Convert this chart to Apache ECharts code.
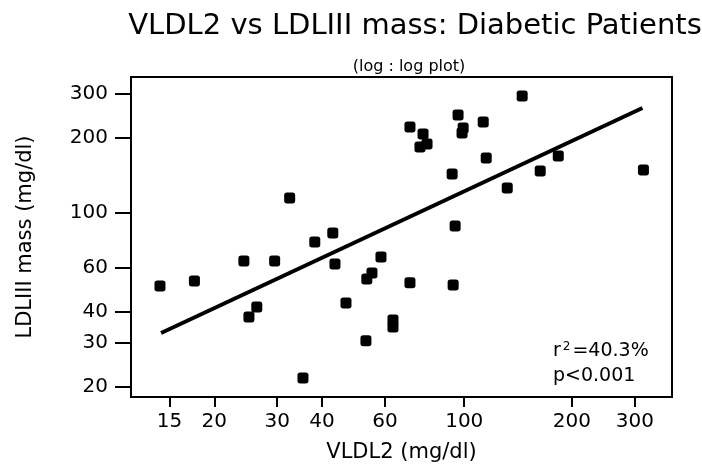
<!DOCTYPE html>
<html>
<head>
<meta charset="utf-8">
<script src="https://cdn.jsdelivr.net/npm/echarts@6/dist/echarts.min.js"></script>
<style>
  html, body { margin: 0; padding: 0; background: #fff; }
  #main { width: 702px; height: 472px; }
</style>
</head>
<body>
<div id="main"></div>
<script>
// VLDL2 (x) and LDLIII mass (y)
var vldl2 = [14.1, 17.6, 24.2, 25.0, 26.3, 29.5, 32.5, 35.4, 38.2, 42.9, 43.5, 46.7,
             53.1, 53.4, 55.2, 58.5, 63.2, 63.2, 70.5, 76.7, 75.2, 78.7, 70.5, 92.5,
             94.3, 93.1, 96.1, 99.3, 98.6, 113, 115.2, 131.9, 145.2, 163.1, 183.2, 317];
var ldl3 = [50.8, 53.2, 64.0, 38.1, 41.8, 64.0, 114.7, 21.7, 76.3, 83.0, 62.3, 43.4,
            30.6, 54.2, 57.3, 66.4, 37.1, 34.8, 221, 207, 183.8, 189, 52.3, 143,
            88.5, 51.3, 247, 219, 209, 231.6, 166, 125.8, 294.5, 147.2, 169.1, 148.6];

// fitted line end points
var fitX = [14.2, 315];
var fitY = [32.9, 263.6];

var xTicks = [15, 20, 30, 40, 60, 100, 200, 300];
var yTicks = [20, 30, 40, 60, 100, 200, 300];

var points = [];
for (var i = 0; i < vldl2.length; i++) {
  points.push([vldl2[i], ldl3[i]]);
}
var fit = [];
for (var j = 0; j < fitX.length; j++) {
  fit.push([fitX[j], fitY[j]]);
}

var font = 'DejaVu Sans, sans-serif';

var myChart = echarts.init(document.getElementById('main'));
myChart.setOption({
  animation: false,
  backgroundColor: '#fff',
  title: [
    {
      text: 'VLDL2 vs LDLIII mass: Diabetic Patients',
      left: 410, top: 7, textAlign: 'center',
      textStyle: { fontFamily: font, fontSize: 29, fontWeight: 'normal', color: '#000' }
    },
    {
      text: '(log : log plot)',
      left: 404, top: 54, textAlign: 'center',
      textStyle: { fontFamily: font, fontSize: 16, fontWeight: 'normal', color: '#000' }
    }
  ],
  grid: {
    left: 131, right: 30, top: 77, bottom: 75,
    show: true, borderColor: '#000', borderWidth: 2
  },
  xAxis: {
    type: 'log',
    min: 11.7, max: 381,
    name: 'VLDL2 (mg/dl)',
    nameLocation: 'middle',
    nameGap: 45,
    nameTextStyle: { fontFamily: font, fontSize: 21, color: '#000' },
    axisLine: { lineStyle: { color: '#000', width: 2 } },
    axisTick: { length: 10, lineStyle: { color: '#000', width: 2 }, customValues: xTicks },
    axisLabel: { margin: 15, fontFamily: font, fontSize: 20, color: '#000', customValues: xTicks },
    splitLine: { show: false }
  },
  yAxis: {
    type: 'log',
    min: 18.2, max: 351,
    name: 'LDLIII mass (mg/dl)',
    nameLocation: 'middle',
    nameGap: 95,
    nameTextStyle: { fontFamily: font, fontSize: 21, color: '#000' },
    axisLine: { lineStyle: { color: '#000', width: 2 } },
    axisTick: { length: 16, lineStyle: { color: '#000', width: 2 }, customValues: yTicks },
    axisLabel: { margin: 23, fontFamily: font, fontSize: 20, color: '#000', customValues: yTicks },
    splitLine: { show: false }
  },
  graphic: [
    {
      type: 'text', left: 553, top: 341,
      style: {
        text: '{a|r}{s|2}{a|=40.3%}',
        rich: {
          a: { fontFamily: font, fontSize: 19, fill: '#000' },
          s: { fontFamily: font, fontSize: 12, fill: '#000', verticalAlign: 'top', padding: [0, 2, 8, 2] }
        }
      }
    },
    {
      type: 'text', left: 553, top: 367,
      style: { text: 'p<0.001', font: '19px ' + font, fill: '#000' }
    }
  ],
  series: [
    {
      type: 'line',
      data: fit,
      showSymbol: false,
      symbol: 'none',
      lineStyle: { color: '#000', width: 4 },
      z: 2
    },
    {
      type: 'scatter',
      data: points,
      symbol: 'roundRect',
      symbolSize: 11,
      itemStyle: { color: '#000', opacity: 1 },
      z: 3
    }
  ]
});
</script>
</body>
</html>
